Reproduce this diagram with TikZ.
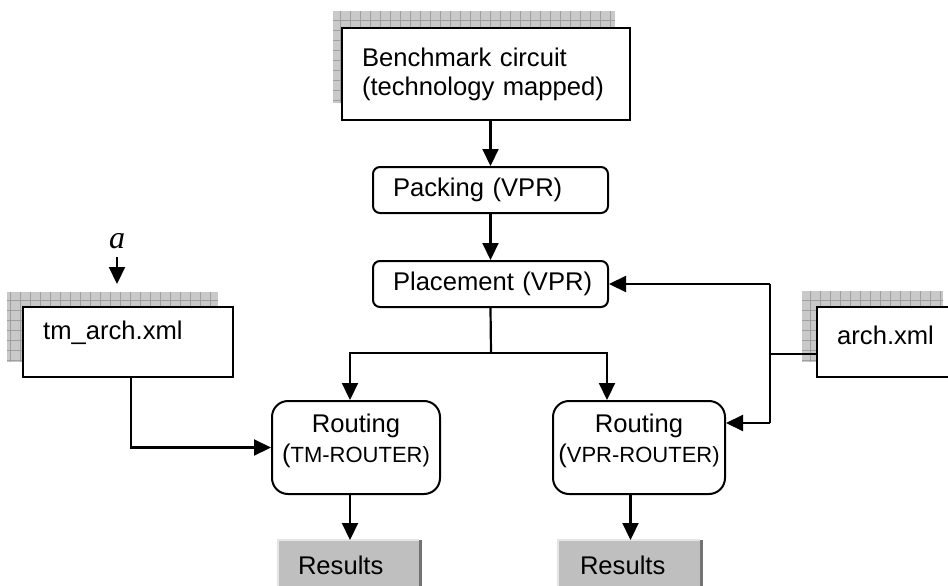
\documentclass[tikz,border=0pt]{standalone}
\usepackage{fontspec}
\setmainfont{Liberation Sans}
\newfontfamily\serifface{Liberation Serif}
\usetikzlibrary{arrows.meta,calc}
\newcommand\gridshadow[4]{%
  \begin{scope}
    \clip (#1,#2) rectangle (#3,#4);
    \fill[gray!42] (#1,#2) rectangle (#3,#4);
    \draw[gray!75,line width=0.7pt] (#1,#2) grid[step=10pt] (#3,#4);
  \end{scope}}
\tikzset{
  base/.style={font=\fontsize{25.6}{29}\selectfont, text=black},
  sqbox/.style={base, draw=black, line width=2pt, fill=white, rectangle, inner sep=0pt},
  rbox/.style={base, draw=black, line width=2pt, fill=white, rectangle, rounded corners=7pt, inner ysep=0pt},
  routebox/.style={draw=black, line width=2pt, fill=white, rectangle, rounded corners=16pt, inner sep=0pt},
  routetxt/.style={base, align=center, inner sep=0pt},
  resbox/.style={base, fill=black!25, rectangle, inner ysep=0pt, align=left, anchor=north},
  lbl/.style={base, inner sep=0pt, anchor=west},
  arr/.style={line width=2.2pt, -{Triangle[length=17pt,width=16pt]}},
  ln/.style={line width=2.2pt},
}
\begin{document}
\begin{tikzpicture}[x=1pt,y=-1pt]
\clip (0,0) rectangle (948,586);
\fill[white] (0,0) rectangle (948,586);

% shadows
\gridshadow{333}{11}{615}{103}
\gridshadow{7}{292}{218}{362}
\gridshadow{802}{291}{943}{362}

% benchmark
\node[sqbox, minimum width=288pt, minimum height=92pt, text width=248pt, inner xsep=20pt, align=left] (bench) at (486,74)
  {Benchmark circuit\\(technology mapped)};

% packing / placement
\node[rbox, minimum width=235pt, minimum height=46pt, text width=195pt, inner xsep=20pt, align=left] (pack) at (490.5,190) {\mbox{Packing (VPR)}};
\node[rbox, minimum width=235pt, minimum height=46pt, text width=195pt, inner xsep=20pt, align=left] (place) at (490.5,284) {\mbox{Placement (VPR)}};

% xml boxes
\node[sqbox, minimum width=210pt, minimum height=70pt] (tmarch) at (128,342) {};
\node[lbl] (tmarchtxt) at (43,333) {tm\_arch.xml};
\node[sqbox, minimum width=141pt, minimum height=70pt] (arch) at (887.5,342) {};
\node[lbl] (archtxt) at (837,335) {arch.xml};

% routing
\node[routebox, minimum width=168pt, minimum height=93pt] (rtm) at (356,447.5) {};
\node[routetxt] (rtmtxt) at (356,441) {Routing\\[1pt](\fontsize{22}{29}\selectfont TM-ROUTER)};
\node[routebox, minimum width=172pt, minimum height=93pt] (rvpr) at (639,447.5) {};
\node[routetxt] (rvprtxt) at (639,441) {Routing\\[1pt](\fontsize{22}{29}\selectfont VPR-ROUTER)};

% results
\node[resbox, minimum height=50pt, text width=104pt, inner xsep=20pt] (resL) at (350,540) {Results};
\node[resbox, minimum height=50pt, text width=101pt, inner xsep=22pt] (resR) at (630.5,540) {Results};
\draw[black!55, line width=3pt] ([xshift=-1.5pt]resL.north east) -- ([xshift=-1.5pt]resL.south east);
\draw[black!55, line width=3pt] ([xshift=-1.5pt]resR.north east) -- ([xshift=-1.5pt]resR.south east);
\draw[black!10, line width=1.5pt] (resL.south west) -- (resL.north west) -- ([xshift=-3pt]resL.north east);
\draw[black!10, line width=1.5pt] (resR.south west) -- (resR.north west) -- ([xshift=-3pt]resR.north east);

% label a
\node[font=\serifface\itshape\fontsize{32}{34}\selectfont, inner sep=0pt] (alab) at (117,241) {a};
\coordinate (aend) at (117,284);
\draw[arr] (117,257) -- (aend);

% connectors
\draw[arr] (pack.north |- bench.south) -- (pack.north);
\draw[arr] (pack.south) -- (place.north);
\coordinate (split) at (491,353);
\draw[ln] (place.south) -- (split);
\draw[arr] (split) -| ([xshift=-6pt]rtm.north);
\draw[arr] (split) -| ([xshift=-32pt]rvpr.north);

\coordinate (jt) at (770,284);
\coordinate (jm) at (770,354);
\coordinate (jb) at (770,423);
\draw[ln] ([yshift=-12pt]arch.west) -- (jm);
\draw[ln] (jt) -- (jb);
\draw[arr] (jt) -- (place.east);
\draw[arr] (jb) -- (rvpr.east |- jb);

\draw[arr] ([xshift=3pt]tmarch.south) |- (rtm.west);

\draw[arr] (resL.north |- rtm.south) -- (resL.north);
\draw[arr] (resR.north |- rvpr.south) -- (resR.north);
\end{tikzpicture}
\end{document}
